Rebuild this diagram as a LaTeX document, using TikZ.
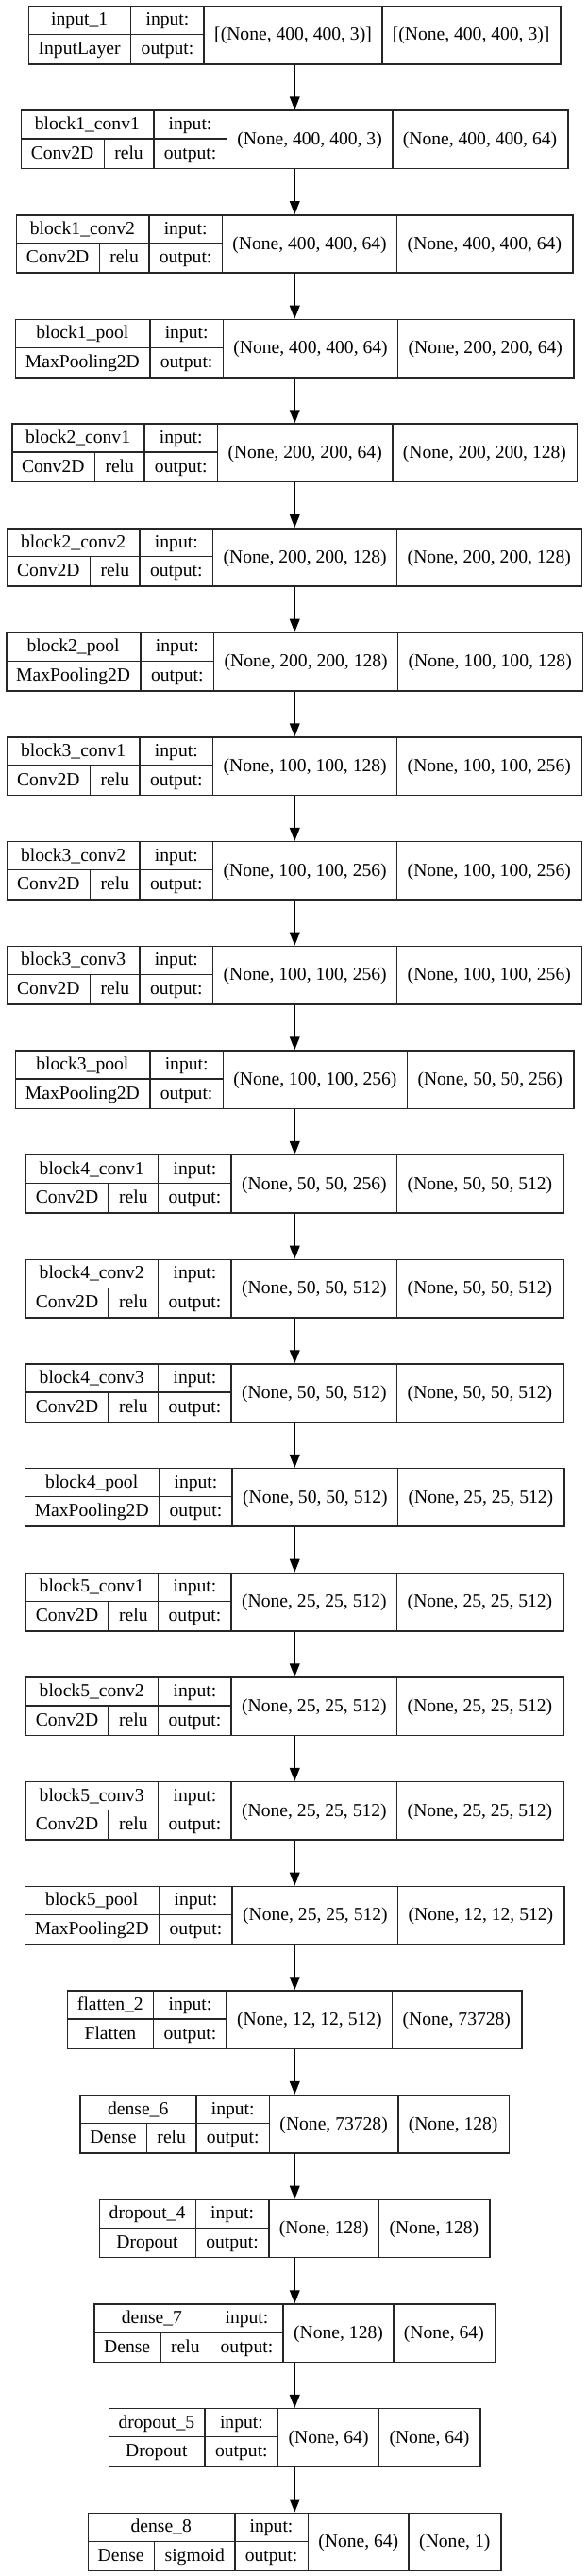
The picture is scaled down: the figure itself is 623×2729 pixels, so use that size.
\documentclass[tikz,border=0pt]{standalone}
\usepackage{fontspec}
\setmainfont{Liberation Serif}
\usetikzlibrary{arrows.meta}
\font\lblfnt="Liberation Serif" at 19.6pt
\newlength\wN \newlength\wT \newlength\wAct \newlength\wIO \newlength\wIn \newlength\wOut
\def\pad{22}
\def\pitch{110.66}
\def\boxh{61.4}
\def\cx{311.5}
\def\boff{5.8}
\def\soff{6.6}
\tikzset{
  rec/.style={draw=black!85, line width=1.5pt, inner sep=0pt, anchor=north west},
  sep/.style={draw=black!85, line width=1.5pt},
  lbl/.style={inner sep=0pt, anchor=base, font=\lblfnt},
  flow/.style={line width=1.4pt, -{Triangle[length=14pt,width=10.7pt]}}
}
\newcommand\layer[7]{%
  \begingroup
  \settowidth\wN{\lblfnt #3}\settowidth\wT{\lblfnt #4}\settowidth\wAct{\lblfnt #5}%
  \settowidth\wIO{\lblfnt output:}\settowidth\wIn{\lblfnt #6}\settowidth\wOut{\lblfnt #7}%
  \pgfmathsetmacro\cN{\wN+\pad}%
  \pgfmathsetmacro\cT{\wT+\pad}%
  \ifdim\wAct>0pt \pgfmathsetmacro\cA{\wAct+\pad}\else\def\cA{0}\fi
  \pgfmathsetmacro\cB{\cT+\cA}%
  \pgfmathsetmacro\cOne{max(\cN,\cB)}%
  \pgfmathsetmacro\cT{\cT+(\cOne-\cB)*((\cA>0) ? 0.5 : 1)}%
  \pgfmathsetmacro\cTwo{\wIO+\pad}%
  \pgfmathsetmacro\cThree{\wIn+\pad}%
  \pgfmathsetmacro\cFour{\wOut+\pad}%
  \pgfmathsetmacro\W{\cOne+\cTwo+\cThree+\cFour}%
  \pgfmathsetmacro\xa{\cx-\W/2}%
  \pgfmathsetmacro\yt{-5.7-#2*\pitch}%
  \pgfmathsetmacro\ym{\yt-\boxh/2}%
  \pgfmathsetmacro\yb{\yt-\boxh}%
  \pgfmathsetmacro\xone{\xa+\cOne}%
  \pgfmathsetmacro\xtwo{\xone+\cTwo}%
  \pgfmathsetmacro\xthree{\xtwo+\cThree}%
  \pgfmathsetmacro\xend{\xa+\W}%
  \pgfmathsetmacro\xt{\xa+\cT}%
  \pgfmathsetmacro\rowa{\yt-\boxh/4-\boff}%
  \pgfmathsetmacro\rowb{\yt-3*\boxh/4-\boff}%
  \pgfmathsetmacro\rowc{\ym-\soff}%
  \node[rec, minimum width=\W pt, minimum height=\boxh pt] (#1) at (\xa,\yt) {};
  \draw[sep] (\xone,\yt) -- (\xone,\yb) (\xtwo,\yt) -- (\xtwo,\yb)
             (\xthree,\yt) -- (\xthree,\yb) (\xa,\ym) -- (\xtwo,\ym);
  \ifdim\wAct>0pt \draw[sep] (\xt,\ym) -- (\xt,\yb);\fi
  \node[lbl] (#1-name) at ({(\xa+\xone)/2},\rowa) {#3};
  \ifdim\wAct>0pt
    \node[lbl] (#1-type) at ({(\xa+\xt)/2},\rowb) {#4};
    \node[lbl] (#1-act) at ({(\xt+\xone)/2},\rowb) {#5};
  \else
    \node[lbl] (#1-type) at ({(\xa+\xone)/2},\rowb) {#4};
  \fi
  \node[lbl] (#1-inl) at ({(\xone+\xtwo)/2},\rowa) {input:};
  \node[lbl] (#1-outl) at ({(\xone+\xtwo)/2},\rowb) {output:};
  \node[lbl] (#1-ins) at ({(\xtwo+\xthree)/2},\rowc) {#6};
  \node[lbl] (#1-outs) at ({(\xthree+\xend)/2},\rowc) {#7};
  \endgroup
}
\begin{document}
\begin{tikzpicture}[x=1pt,y=1pt]
\useasboundingbox (0,0) rectangle (623,-2729);
\layer{L0}{0}{input\_1}{InputLayer}{}{[(None, 400, 400, 3)]}{[(None, 400, 400, 3)]}
\layer{L1}{1}{block1\_conv1}{Conv2D}{relu}{(None, 400, 400, 3)}{(None, 400, 400, 64)}
\layer{L2}{2}{block1\_conv2}{Conv2D}{relu}{(None, 400, 400, 64)}{(None, 400, 400, 64)}
\layer{L3}{3}{block1\_pool}{MaxPooling2D}{}{(None, 400, 400, 64)}{(None, 200, 200, 64)}
\layer{L4}{4}{block2\_conv1}{Conv2D}{relu}{(None, 200, 200, 64)}{(None, 200, 200, 128)}
\layer{L5}{5}{block2\_conv2}{Conv2D}{relu}{(None, 200, 200, 128)}{(None, 200, 200, 128)}
\layer{L6}{6}{block2\_pool}{MaxPooling2D}{}{(None, 200, 200, 128)}{(None, 100, 100, 128)}
\layer{L7}{7}{block3\_conv1}{Conv2D}{relu}{(None, 100, 100, 128)}{(None, 100, 100, 256)}
\layer{L8}{8}{block3\_conv2}{Conv2D}{relu}{(None, 100, 100, 256)}{(None, 100, 100, 256)}
\layer{L9}{9}{block3\_conv3}{Conv2D}{relu}{(None, 100, 100, 256)}{(None, 100, 100, 256)}
\layer{L10}{10}{block3\_pool}{MaxPooling2D}{}{(None, 100, 100, 256)}{(None, 50, 50, 256)}
\layer{L11}{11}{block4\_conv1}{Conv2D}{relu}{(None, 50, 50, 256)}{(None, 50, 50, 512)}
\layer{L12}{12}{block4\_conv2}{Conv2D}{relu}{(None, 50, 50, 512)}{(None, 50, 50, 512)}
\layer{L13}{13}{block4\_conv3}{Conv2D}{relu}{(None, 50, 50, 512)}{(None, 50, 50, 512)}
\layer{L14}{14}{block4\_pool}{MaxPooling2D}{}{(None, 50, 50, 512)}{(None, 25, 25, 512)}
\layer{L15}{15}{block5\_conv1}{Conv2D}{relu}{(None, 25, 25, 512)}{(None, 25, 25, 512)}
\layer{L16}{16}{block5\_conv2}{Conv2D}{relu}{(None, 25, 25, 512)}{(None, 25, 25, 512)}
\layer{L17}{17}{block5\_conv3}{Conv2D}{relu}{(None, 25, 25, 512)}{(None, 25, 25, 512)}
\layer{L18}{18}{block5\_pool}{MaxPooling2D}{}{(None, 25, 25, 512)}{(None, 12, 12, 512)}
\layer{L19}{19}{flatten\_2}{Flatten}{}{(None, 12, 12, 512)}{(None, 73728)}
\layer{L20}{20}{dense\_6}{Dense}{relu}{(None, 73728)}{(None, 128)}
\layer{L21}{21}{dropout\_4}{Dropout}{}{(None, 128)}{(None, 128)}
\layer{L22}{22}{dense\_7}{Dense}{relu}{(None, 128)}{(None, 64)}
\layer{L23}{23}{dropout\_5}{Dropout}{}{(None, 64)}{(None, 64)}
\layer{L24}{24}{dense\_8}{Dense}{sigmoid}{(None, 64)}{(None, 1)}
\foreach \i [evaluate=\i as \j using int(\i+1)] in {0,...,23}
  \draw[flow] (L\i.south) -- (L\j.north);
\end{tikzpicture}
\end{document}
